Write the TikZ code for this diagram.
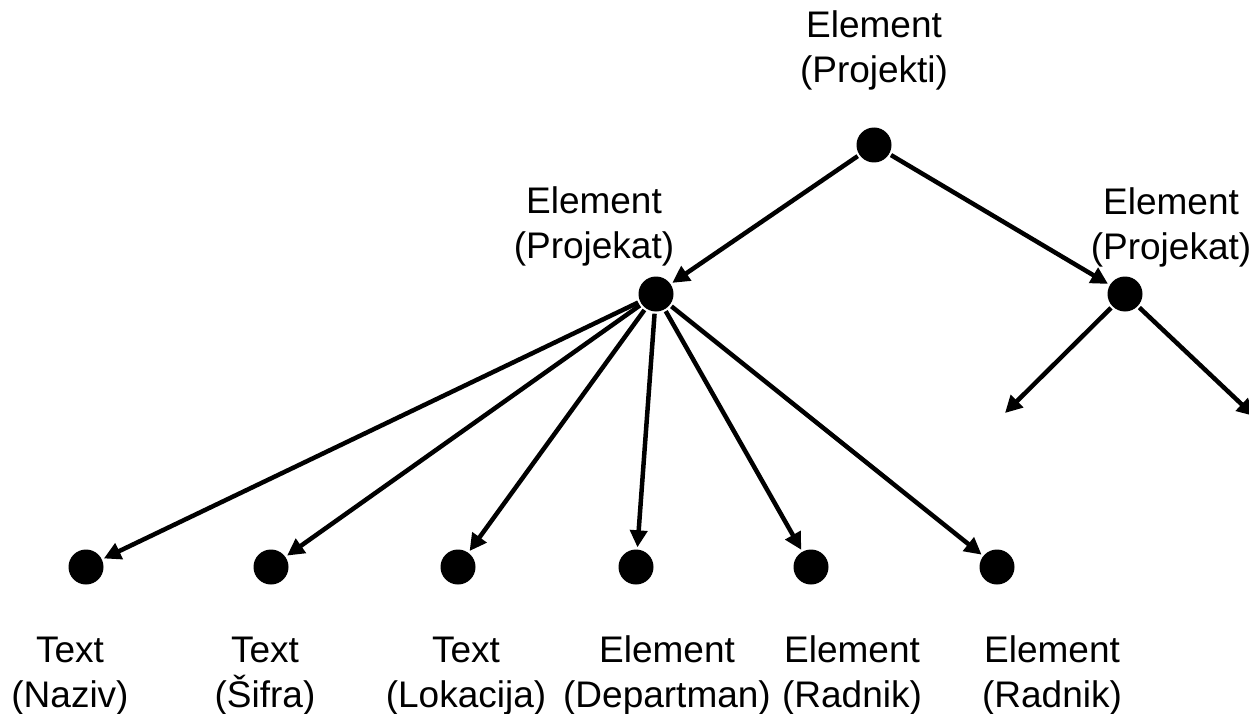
\documentclass[tikz,border=0pt]{standalone}
\usepackage{fontspec}
\setmainfont{Liberation Sans}
\usetikzlibrary{arrows.meta}

\tikzset{every picture/.style={line width=4.5pt}}
\tikzset{
  dot/.style={circle, fill=black, inner sep=0pt, minimum size=35pt},
  lbl/.style={align=center, anchor=base, inner sep=0pt, font=\fontsize{37}{45}\selectfont},
  arr/.style={-{Triangle[length=17pt,width=17pt]}}
}

\begin{document}
\begin{tikzpicture}[x=1pt,y=1pt,yscale=-1,xscale=1]
\useasboundingbox (0,0) rectangle (1249,714);

%Shape: Circle
\node [dot] (projekti) at (874,145) {};
%Shape: Circle
\node [dot] (projekatA) at (656,294) {};
%Shape: Circle
\node [dot] (projekatB) at (1125,294) {};
%Shape: Circle
\node [dot] (naziv) at (86,567) {};
%Shape: Circle
\node [dot] (sifra) at (271,567) {};
%Shape: Circle
\node [dot] (lokacija) at (458,567) {};
%Shape: Circle
\node [dot] (departman) at (636,567) {};
%Shape: Circle
\node [dot] (radnikA) at (811,567) {};
%Shape: Circle
\node [dot] (radnikB) at (997,567) {};
\coordinate (endA) at (1005,413);
\coordinate (endB) at (1254,416);

%Straight Lines
\draw [arr] (projekti) -- (projekatA);
\draw [arr] (projekti) -- (projekatB);
%Straight Lines
\draw [arr] (projekatA) -- (naziv);
\draw [arr] (projekatA) -- (sifra);
\draw [arr] (projekatA) -- (lokacija);
\draw [arr] (projekatA) -- (departman);
\draw [arr] (projekatA) -- (radnikA);
\draw [arr] (projekatA) -- (radnikB);
%Straight Lines
\draw [arr] (projekatB) -- (endA);
\draw [arr] (projekatB) -- (endB);

% Text Node
\node [lbl] (lprojekti) at (874,83) {Element\\(Projekti)};
% Text Node
\node [lbl] (lprojekatA) at (594,258) {Element\\(Projekat)};
% Text Node
\node [lbl] (lprojekatB) at (1171,259) {Element\\(Projekat)};
% Text Node
\node [lbl] (lnaziv) at (70,707) {Text\\(Naziv)};
% Text Node
\node [lbl] (lsifra) at (265,707) {Text\\(Šifra)};
% Text Node
\node [lbl] (llokacija) at (466,707) {Text\\(Lokacija)};
% Text Node
\node [lbl] (ldepartman) at (667,707) {Element\\(Departman)};
% Text Node
\node [lbl] (lradnikA) at (852,707) {Element\\(Radnik)};
% Text Node
\node [lbl] (lradnikB) at (1052,707) {Element\\(Radnik)};

\end{tikzpicture}
\end{document}
